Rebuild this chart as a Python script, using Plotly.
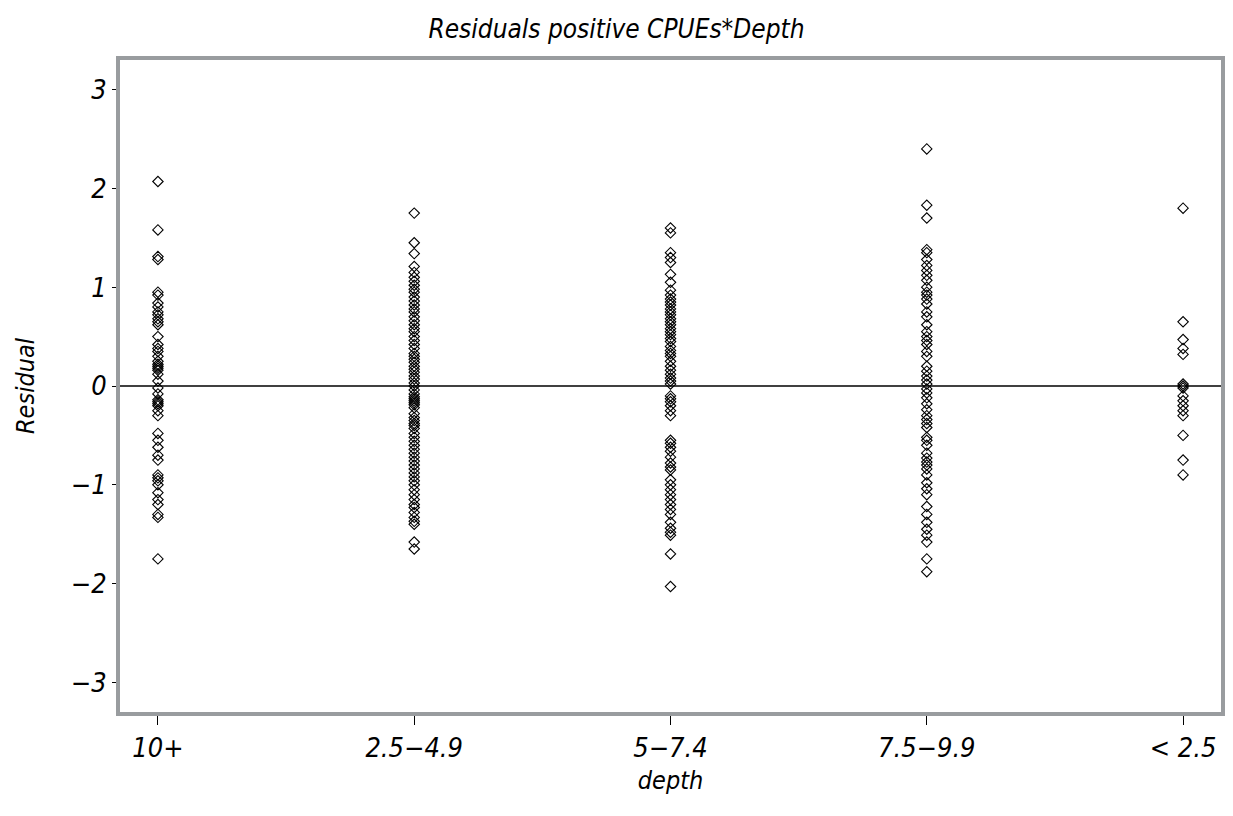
import plotly.graph_objects as go

# Depth classes in plotting order
categories = ["10+", "2.5\u22124.9", "5\u22127.4", "7.5\u22129.9", "< 2.5"]

# Residuals of positive CPUEs for each depth class
res_10plus = [2.07, 1.58, 1.31, 1.28, 0.95, 0.92, 0.84, 0.80, 0.75, 0.72, 0.68,
              0.65, 0.62, 0.50, 0.42, 0.38, 0.35, 0.30, 0.25, 0.22, 0.20, 0.18,
              0.16, 0.12, 0.05, -0.02, -0.08, -0.14, -0.16, -0.18, -0.20, -0.25,
              -0.30, -0.48, -0.55, -0.62, -0.70, -0.75, -0.90, -0.93, -0.96,
              -1.00, -1.08, -1.15, -1.20, -1.30, -1.33, -1.75]

res_2_5_4_9 = [1.75, 1.45, 1.34, 1.21, 1.15, 1.10, 1.06, 1.02, 0.98, 0.95, 0.90,
               0.86, 0.82, 0.78, 0.75, 0.70, 0.66, 0.62, 0.58, 0.55, 0.50, 0.46,
               0.42, 0.38, 0.33, 0.30, 0.27, 0.24, 0.20, 0.17, 0.14, 0.10, 0.07,
               0.03, 0.00, -0.04, -0.08, -0.11, -0.13, -0.15, -0.17, -0.19,
               -0.22, -0.28, -0.32, -0.35, -0.38, -0.40, -0.43, -0.48, -0.52,
               -0.56, -0.60, -0.64, -0.68, -0.72, -0.76, -0.80, -0.84, -0.88,
               -0.92, -0.96, -1.00, -1.05, -1.10, -1.15, -1.20, -1.23, -1.28,
               -1.33, -1.37, -1.40, -1.58, -1.65]

res_5_7_4 = [1.60, 1.55, 1.35, 1.30, 1.25, 1.13, 1.05, 0.97, 0.92, 0.88, 0.85,
             0.82, 0.78, 0.75, 0.72, 0.68, 0.65, 0.62, 0.58, 0.55, 0.52, 0.48,
             0.45, 0.40, 0.36, 0.33, 0.30, 0.25, 0.20, 0.16, 0.12, 0.08, 0.05,
             0.02, -0.10, -0.13, -0.16, -0.20, -0.25, -0.30, -0.55, -0.58,
             -0.62, -0.66, -0.72, -0.78, -0.82, -0.85, -0.95, -1.00, -1.05,
             -1.10, -1.15, -1.20, -1.25, -1.30, -1.38, -1.44, -1.48, -1.51,
             -1.70, -2.03]

res_7_5_9_9 = [2.40, 1.83, 1.70, 1.38, 1.35, 1.28, 1.22, 1.17, 1.12, 1.07, 1.00,
               0.95, 0.92, 0.88, 0.83, 0.75, 0.70, 0.62, 0.55, 0.50, 0.46, 0.42,
               0.35, 0.30, 0.20, 0.15, 0.10, 0.06, 0.02, -0.03, -0.07, -0.12,
               -0.18, -0.24, -0.30, -0.34, -0.38, -0.42, -0.52, -0.55, -0.60,
               -0.68, -0.73, -0.77, -0.80, -0.84, -0.90, -0.98, -1.04, -1.10,
               -1.22, -1.30, -1.38, -1.45, -1.51, -1.58, -1.75, -1.88]

res_lt2_5 = [1.80, 0.65, 0.47, 0.38, 0.32, 0.02, 0.00, -0.02, -0.10, -0.15,
             -0.20, -0.25, -0.30, -0.50, -0.75, -0.90]

series = [res_10plus, res_2_5_4_9, res_5_7_4, res_7_5_9_9, res_lt2_5]

xs, ys = [], []
for cat, vals in zip(categories, series):
    xs.extend([cat] * len(vals))
    ys.extend(vals)

FONT = "DejaVu Sans Condensed, Liberation Sans Narrow, Liberation Sans, sans-serif"

fig = go.Figure()
fig.add_trace(go.Scatter(
    x=xs, y=ys, mode="markers",
    marker=dict(symbol="diamond-open", size=8, color="black",
                line=dict(width=1.1, color="black")),
    showlegend=False,
))

# Zero reference line
fig.add_hline(y=0, line=dict(color="black", width=1.3))

fig.update_layout(
    width=1233, height=816,
    margin=dict(l=120, r=8, t=60, b=104),
    paper_bgcolor="white", plot_bgcolor="white",
    title=dict(text="Residuals positive CPUEs*Depth", x=0.5, xanchor="center",
               y=0.965, yanchor="middle",
               font=dict(family=FONT, size=26, style="italic", color="black")),
    font=dict(family=FONT, color="black"),
)

fig.update_xaxes(
    type="category", categoryorder="array", categoryarray=categories,
    range=[-0.148, 4.148],
    showgrid=False, zeroline=False,
    showline=True, mirror=True, linecolor="#999c9f", linewidth=4,
    ticks="outside", ticklen=9, tickwidth=1, tickcolor="black",
    tickfont=dict(family=FONT, size=27, style="italic", color="black"),
    title=dict(text="depth", standoff=10,
               font=dict(family=FONT, size=25, style="italic", color="black")),
)
fig.update_yaxes(
    range=[-3.3, 3.3], tickvals=[-3, -2, -1, 0, 1, 2, 3],
    showgrid=False, zeroline=False,
    showline=True, mirror=True, linecolor="#999c9f", linewidth=4,
    ticks="outside", ticklen=4, tickwidth=1, tickcolor="black",
    tickfont=dict(family=FONT, size=27, style="italic", color="black"),
    title=dict(text="Residual", standoff=30,
               font=dict(family=FONT, size=25, style="italic", color="black")),
)

fig.write_html("out.html")
